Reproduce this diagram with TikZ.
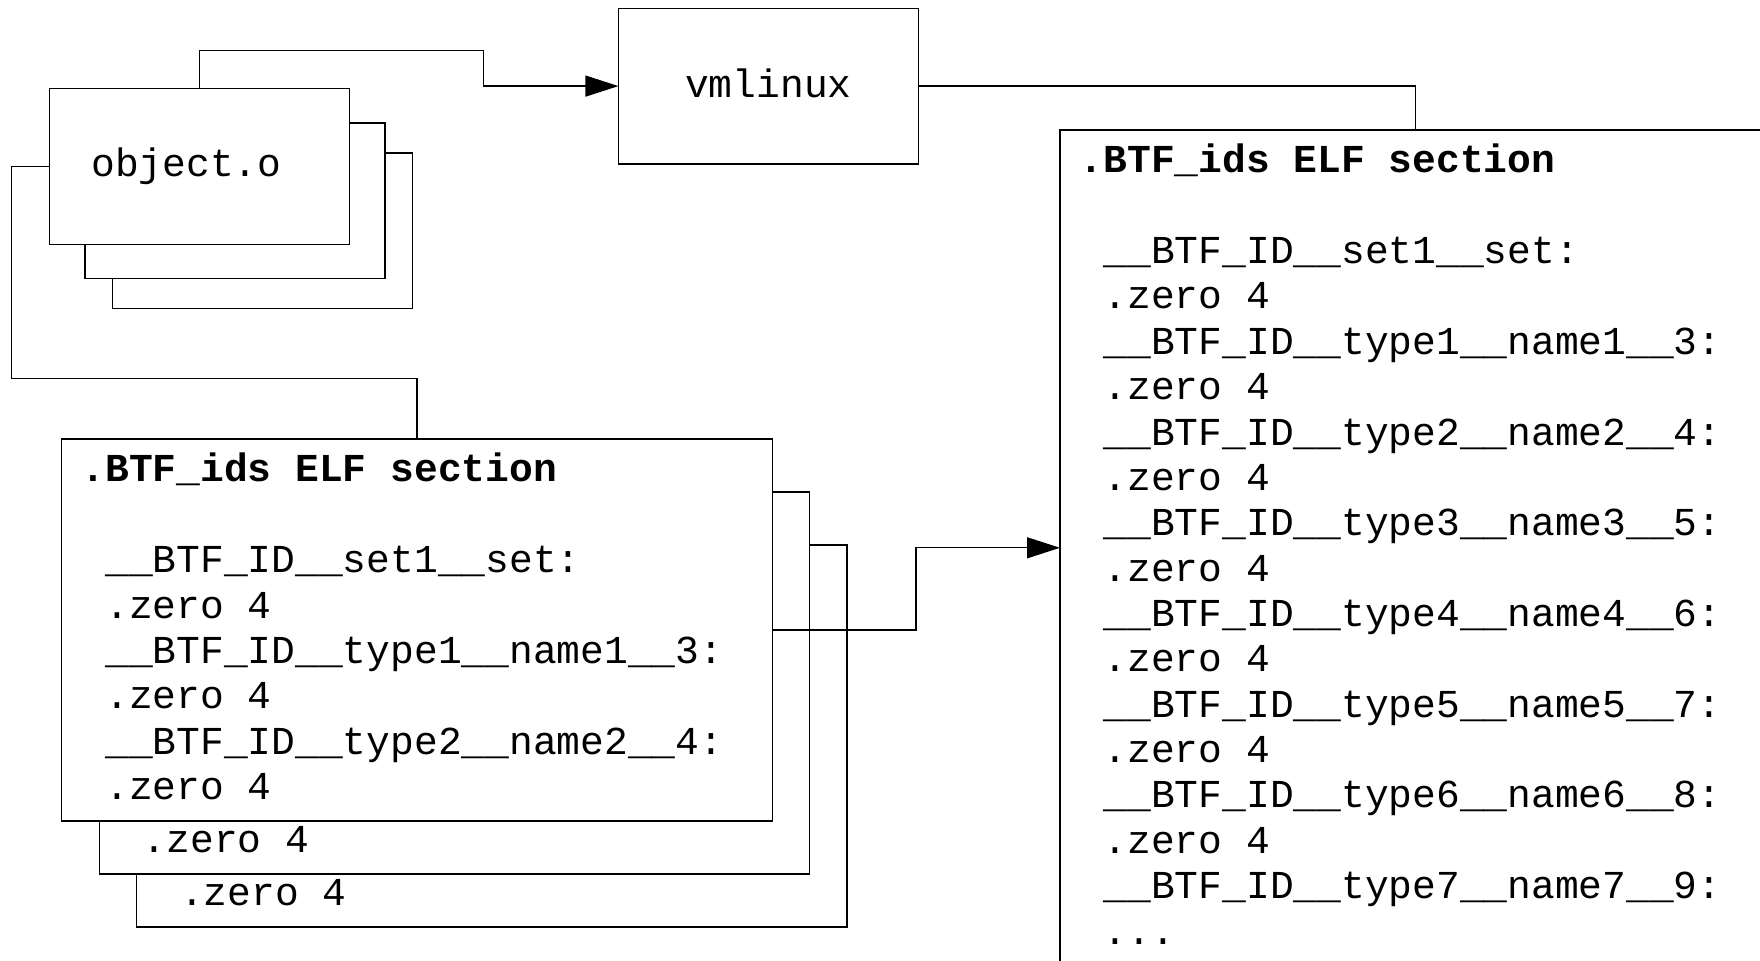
\documentclass[tikz,border=0pt]{standalone}
\usepackage{fontspec}
\setmonofont{Liberation Mono}
\usetikzlibrary{arrows.meta}

\begin{document}
\begin{tikzpicture}[x = 0.5pt, y = -0.5pt]
\tikzstyle{BoxStyle}=[shape = rectangle,
                      draw,
                      fill = white,
                      line width = 0.65pt,
                      inner sep = 0pt,
                      outer sep = 0pt,
                      anchor = north west]
\tikzstyle{SmallBox}=[BoxStyle,
                      minimum width = 150pt,
                      minimum height = 77.8pt]
\tikzstyle{SectionBox}=[BoxStyle,
                        minimum width = 355.2pt,
                        minimum height = 191pt]
\tikzstyle{CodeStyle}=[font = \ttfamily\fontsize{19.8pt}{22.68pt}\selectfont,
                       align = left,
                       inner sep = 0pt,
                       anchor = base west]
\tikzstyle{LinkStyle}=[line width = 0.65pt]
\tikzstyle{post}=[-{Triangle[length = 16.5pt, width = 10.5pt]}]

\useasboundingbox (0,0) rectangle (1760,961);

% object files
\node[SmallBox] (obj3) at (112.7,153) {};
\node[SmallBox] (obj2) at (85,123) {};
\node[SmallBox] (obj1) at (49.6,88.7) {};
\node[CodeStyle] (objname) at (91,177) {object.o};

% linked kernel
\node[SmallBox, text depth = 2.5pt, font = \ttfamily\fontsize{19.8pt}{22.68pt}\selectfont] (vml) at (618.4,8.3) {vmlinux};

% per object .BTF_ids sections
% (base of a multi-line node is its last line)
\node[SectionBox] (btf3) at (136.6,545) {};
\node[CodeStyle] (btf3txt) at (156,905.5) {\ .zero 4};
\node[SectionBox] (btf2) at (99.2,492) {};
\node[CodeStyle] (btf2txt) at (118.6,852.5) {\ .zero 4};
\node[SectionBox] (btf1) at (61.8,439) {};
\node[CodeStyle] (btf1txt) at (81.2,799.5) {\textbf{.BTF\_ids ELF section}\\
\\
\ \_\_BTF\_ID\_\_set1\_\_set:\\
\ .zero 4\\
\ \_\_BTF\_ID\_\_type1\_\_name1\_\_3:\\
\ .zero 4\\
\ \_\_BTF\_ID\_\_type2\_\_name2\_\_4:\\
\ .zero 4};

% final .BTF_ids section
\node[BoxStyle, minimum width = 355.2pt, minimum height = 417.8pt] (big) at (1060,130) {};
\node[CodeStyle] (bigtxt) at (1079.5,944) {\textbf{.BTF\_ids ELF section}\\
\\
\ \_\_BTF\_ID\_\_set1\_\_set:\\
\ .zero 4\\
\ \_\_BTF\_ID\_\_type1\_\_name1\_\_3:\\
\ .zero 4\\
\ \_\_BTF\_ID\_\_type2\_\_name2\_\_4:\\
\ .zero 4\\
\ \_\_BTF\_ID\_\_type3\_\_name3\_\_5:\\
\ .zero 4\\
\ \_\_BTF\_ID\_\_type4\_\_name4\_\_6:\\
\ .zero 4\\
\ \_\_BTF\_ID\_\_type5\_\_name5\_\_7:\\
\ .zero 4\\
\ \_\_BTF\_ID\_\_type6\_\_name6\_\_8:\\
\ .zero 4\\
\ \_\_BTF\_ID\_\_type7\_\_name7\_\_9:\\
\ ...};

% connectors
\coordinate (c1) at (483.8,50.7);
\coordinate (c2) at (11.6,378.3);
\coordinate (c4) at (916.1,547.8);
\draw[LinkStyle, post] (obj1.north) |- (c1) |- (vml.west);
\draw[LinkStyle] (obj1.west) -| (c2) -| (btf1.north);
\draw[LinkStyle] (vml.east) -| (big.north);
\draw[LinkStyle, post] (btf1.east) -| (c4) -- (big.west);
\end{tikzpicture}
\end{document}
